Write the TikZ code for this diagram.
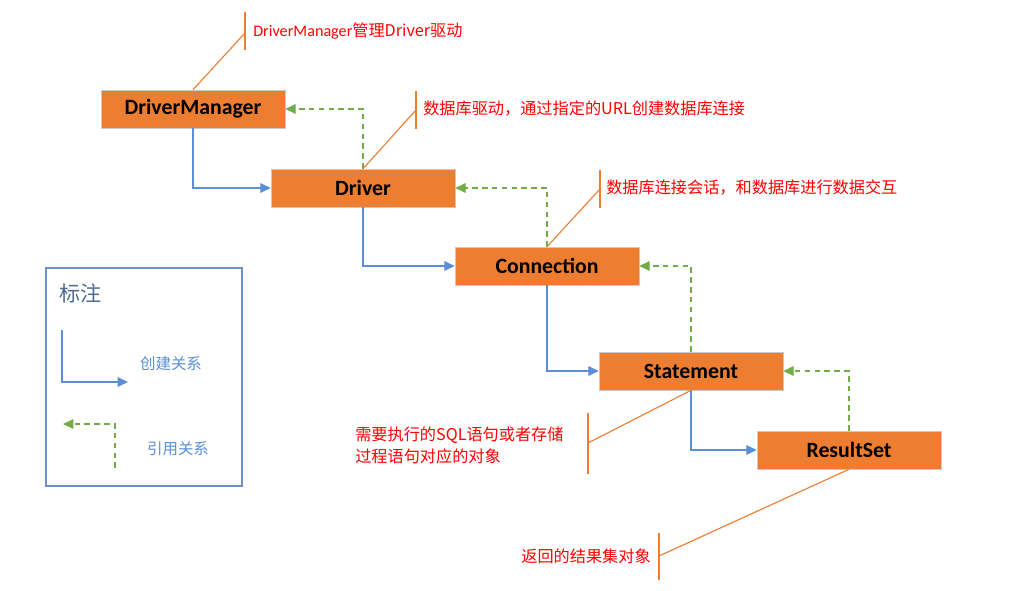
\documentclass[tikz,border=0pt]{standalone}
\usepackage{fontspec}
\setmainfont{Carlito}
\newfontfamily\cjk{Noto Sans CJK SC}
\usetikzlibrary{arrows.meta, positioning, calc}

\definecolor{boxorange}{HTML}{ED7D31}
\definecolor{boxline}{HTML}{C9C9C9}
\definecolor{makeblue}{HTML}{5B8ED6}
\definecolor{refgreen}{HTML}{70AD47}
\definecolor{notered}{HTML}{FF0000}
\definecolor{legendline}{HTML}{6F8FC9}
\definecolor{legendtitle}{HTML}{4F6A8F}

\begin{document}
\begin{tikzpicture}[x=0.025cm, y=-0.025cm,
    obj/.style={draw=boxline, fill=boxorange, minimum width=4.6cm, minimum height=0.95cm,
      inner sep=0pt, font=\fontsize{15.5}{18}\selectfont\bfseries},
    make/.style={makeblue, line width=0.9pt, -{Triangle[length=2.6mm, width=2.4mm]}},
    refer/.style={refgreen, line width=0.9pt, dash pattern=on 4pt off 3pt, -{Triangle[length=2.6mm, width=2.4mm]}},
    callout/.style={boxorange, line width=0.8pt},
    note/.style={notered, inner sep=0pt, font=\fontsize{11.5}{15.6}\selectfont}]
  \useasboundingbox (0,0) rectangle (1012,591);

  % objects
  \node[obj] (dm) at (193,109) {DriverManager};
  \node[obj] (drv) at (363,188) {Driver};
  \node[obj] (conn) at (547,266) {Connection};
  \node[obj] (stmt) at (691,371) {Statement};
  \node[obj] (rs) at (849,450) {ResultSet};

  % creation
  \draw[make] (dm.south) |- (drv.west);
  \draw[make] (drv.south) |- (conn.west);
  \draw[make] (conn.south) |- (stmt.west);
  \draw[make] (stmt.south) |- (rs.west);

  % reference
  \draw[refer] (drv.north) |- (dm.east);
  \draw[refer] (conn.north) |- (drv.east);
  \draw[refer] (stmt.north) |- (conn.east);
  \draw[refer] (rs.north) |- (stmt.east);

  % notes
  \node[note, anchor=west] (n1) at (253,31) {DriverManager\cjk{管理}Driver\cjk{驱动}};
  \node[note, anchor=west] (n2) at (423,109) {\cjk{数据库驱动，通过指定的}URL\cjk{创建数据库连接}};
  \node[note, anchor=west] (n3) at (606,187) {\cjk{数据库连接会话，和数据库进行数据交互}};
  \node[note, anchor=west, align=left] (n4) at (355,445) {\cjk{需要执行的}SQL\cjk{语句或者存储}\\\cjk{过程语句对应的对象}};
  \node[note, anchor=east] (n5) at (651,556) {\cjk{返回的结果集对象}};

  \coordinate (t1) at (245,33);
  \coordinate (t2) at (416,110);
  \coordinate (t3) at (600,189);
  \coordinate (t4) at (588,443);
  \coordinate (t5) at (659,556);
  \draw[callout] (dm.north) -- (t1);
  \draw[callout] (drv.north) -- (t2);
  \draw[callout] (conn.north) -- (t3);
  \draw[callout] (stmt.south) -- (t4);
  \draw[callout] (rs.south) -- (t5);
  \draw[callout] ($(t1)+(0,-21)$) -- ($(t1)+(0,17)$);
  \draw[callout] ($(t2)+(0,-19)$) -- ($(t2)+(0,19)$);
  \draw[callout] ($(t3)+(0,-19)$) -- ($(t3)+(0,19)$);
  \draw[callout] ($(t4)+(0,-30)$) -- ($(t4)+(0,31)$);
  \draw[callout] ($(t5)+(0,-23)$) -- ($(t5)+(0,24)$);

  % legend
  \node[draw=legendline, line width=0.8pt, minimum width=4.9cm, minimum height=5.45cm, inner sep=0pt] (legend) at (144,377) {};
  \node[legendtitle, anchor=west, inner sep=0pt, font=\fontsize{15}{18}\selectfont\cjk] (ltitle) at (59,293) {标注};
  \coordinate (m1) at (62,330);
  \coordinate (m2) at (128,382);
  \draw[make] (m1) |- (m2);
  \node[makeblue, inner sep=0pt, font=\fontsize{11}{13}\selectfont\cjk] (lmake) at (171,364) {创建关系};
  \coordinate (r1) at (115,468);
  \coordinate (r2) at (63,424);
  \draw[refer] (r1) |- (r2);
  \node[makeblue, inner sep=0pt, font=\fontsize{11}{13}\selectfont\cjk] (lref) at (178,449) {引用关系};
\end{tikzpicture}
\end{document}
